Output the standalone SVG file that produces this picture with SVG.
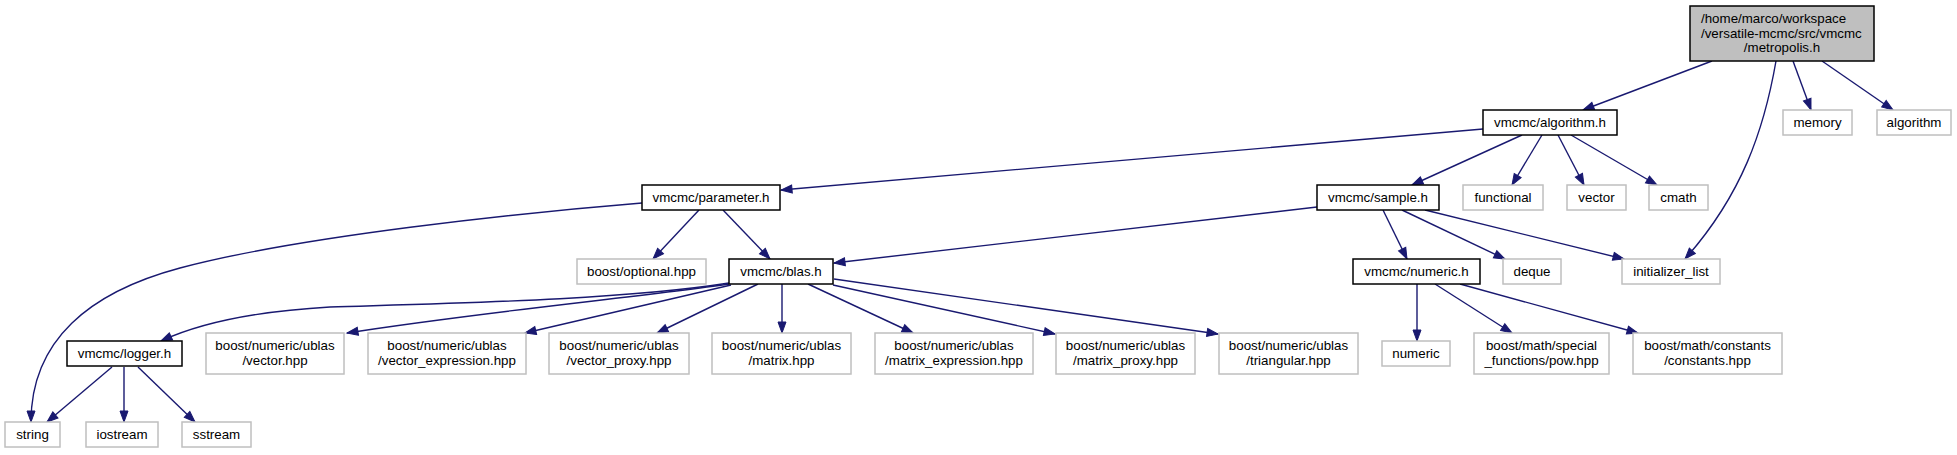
<svg xmlns="http://www.w3.org/2000/svg" width="1957" height="455" viewBox="0 0 1957 455">
<defs>
<style>
.n rect{fill:#ffffff;stroke:#000000;stroke-width:1.5}
.x rect{fill:#ffffff;stroke:#bfbfbf;stroke-width:1.5}
.m rect{fill:#bfbfbf;stroke:#000000;stroke-width:1.5}
text{font-family:"Liberation Sans",Arial,Helvetica,sans-serif;font-size:13.33px;fill:#000000;text-anchor:middle}
.l{text-anchor:start}
#edges path{fill:none;stroke:#191970;stroke-width:1.4;marker-end:url(#ah)}
</style>
<marker id="ah" markerUnits="userSpaceOnUse" markerWidth="12" markerHeight="9" refX="11" refY="4.5" orient="auto" overflow="visible">
<polygon points="0,0.5 11,4.5 0,8.5" fill="#191970" stroke="#191970" stroke-width="1"/>
</marker>
</defs>
<rect width="1957" height="455" fill="#ffffff"/>
<g id="edges">
<path d="M1712,61 L1583,110"/>
<path d="M1776,61 C1764,130 1742,195 1685,259"/>
<path d="M1793,61 L1811,110"/>
<path d="M1822,61 L1893,110"/>
<path d="M1483,129 L781,190"/>
<path d="M1522,135 L1412,185"/>
<path d="M1542,135 L1512,185"/>
<path d="M1558,135 L1584,185"/>
<path d="M1571,135 L1657,185"/>
<path d="M642,203 C520,213 300,236 180,268 C90,292 31,340 31,422"/>
<path d="M699,210 L653,259"/>
<path d="M723,210 L770,259"/>
<path d="M1317,207 L834,263"/>
<path d="M1383,210 L1407,259"/>
<path d="M1402,210 L1505,259"/>
<path d="M1425,210 L1624,259"/>
<path d="M729,283 C620,300 460,303 330,307 C260,311 200,323 161,341"/>
<path d="M729,284 C640,297 480,312 347,333"/>
<path d="M731,285 L525,333"/>
<path d="M758,284 L657,333"/>
<path d="M782,284 L782,333"/>
<path d="M808,284 L913,333"/>
<path d="M833,285 L1055,334"/>
<path d="M834,279 L1218,334"/>
<path d="M112,367 L47,422"/>
<path d="M124,367 L124,422"/>
<path d="M138,367 L195,422"/>
<path d="M1417,284 L1417,341"/>
<path d="M1435,284 L1512,333"/>
<path d="M1460,284 L1638,333"/>
</g>
<g id="metropolis" class="m"><rect x="1690" y="6" width="184" height="55"/><text class="l" x="1701" y="23">/home/marco/workspace</text><text class="l" x="1701" y="38">/versatile-mcmc/src/vmcmc</text><text x="1782" y="52">/metropolis.h</text></g>
<g id="algorithm_h" class="n"><rect x="1483" y="110" width="134" height="25"/><text x="1550" y="127">vmcmc/algorithm.h</text></g>
<g id="memory" class="x"><rect x="1783" y="110" width="69" height="25"/><text x="1817.5" y="127">memory</text></g>
<g id="algorithm" class="x"><rect x="1877" y="110" width="74" height="25"/><text x="1914" y="127">algorithm</text></g>
<g id="parameter_h" class="n"><rect x="642" y="185" width="138" height="25"/><text x="711" y="202">vmcmc/parameter.h</text></g>
<g id="sample_h" class="n"><rect x="1317" y="185" width="122" height="25"/><text x="1378" y="202">vmcmc/sample.h</text></g>
<g id="functional" class="x"><rect x="1463" y="185" width="80" height="25"/><text x="1503" y="202">functional</text></g>
<g id="vector" class="x"><rect x="1567" y="185" width="59" height="25"/><text x="1596.5" y="202">vector</text></g>
<g id="cmath" class="x"><rect x="1649" y="185" width="59" height="25"/><text x="1678.5" y="202">cmath</text></g>
<g id="optional" class="x"><rect x="577" y="259" width="129" height="25"/><text x="641.5" y="276">boost/optional.hpp</text></g>
<g id="blas_h" class="n"><rect x="729" y="259" width="104" height="25"/><text x="781" y="276">vmcmc/blas.h</text></g>
<g id="numeric_h" class="n"><rect x="1353" y="259" width="127" height="25"/><text x="1416.5" y="276">vmcmc/numeric.h</text></g>
<g id="deque" class="x"><rect x="1503" y="259" width="58" height="25"/><text x="1532" y="276">deque</text></g>
<g id="initializer_list" class="x"><rect x="1622" y="259" width="98" height="25"/><text x="1671" y="276">initializer_list</text></g>
<g id="logger_h" class="n"><rect x="67" y="341" width="115" height="25"/><text x="124.5" y="358">vmcmc/logger.h</text></g>
<g id="vector_hpp" class="x"><rect x="206" y="333" width="138" height="41"/><text x="275" y="350">boost/numeric/ublas</text><text x="275" y="365">/vector.hpp</text></g>
<g id="vector_expression" class="x"><rect x="368" y="333" width="158" height="41"/><text x="447" y="350">boost/numeric/ublas</text><text x="447" y="365">/vector_expression.hpp</text></g>
<g id="vector_proxy" class="x"><rect x="549" y="333" width="140" height="41"/><text x="619" y="350">boost/numeric/ublas</text><text x="619" y="365">/vector_proxy.hpp</text></g>
<g id="matrix" class="x"><rect x="712" y="333" width="139" height="41"/><text x="781.5" y="350">boost/numeric/ublas</text><text x="781.5" y="365">/matrix.hpp</text></g>
<g id="matrix_expression" class="x"><rect x="875" y="333" width="158" height="41"/><text x="954" y="350">boost/numeric/ublas</text><text x="954" y="365">/matrix_expression.hpp</text></g>
<g id="matrix_proxy" class="x"><rect x="1056" y="333" width="139" height="41"/><text x="1125.5" y="350">boost/numeric/ublas</text><text x="1125.5" y="365">/matrix_proxy.hpp</text></g>
<g id="triangular" class="x"><rect x="1219" y="333" width="139" height="41"/><text x="1288.5" y="350">boost/numeric/ublas</text><text x="1288.5" y="365">/triangular.hpp</text></g>
<g id="numeric" class="x"><rect x="1382" y="341" width="68" height="25"/><text x="1416" y="358">numeric</text></g>
<g id="pow" class="x"><rect x="1474" y="333" width="135" height="41"/><text x="1541.5" y="350">boost/math/special</text><text x="1541.5" y="365">_functions/pow.hpp</text></g>
<g id="constants" class="x"><rect x="1633" y="333" width="149" height="41"/><text x="1707.5" y="350">boost/math/constants</text><text x="1707.5" y="365">/constants.hpp</text></g>
<g id="string" class="x"><rect x="5" y="422" width="55" height="25"/><text x="32.5" y="439">string</text></g>
<g id="iostream" class="x"><rect x="86" y="422" width="72" height="25"/><text x="122" y="439">iostream</text></g>
<g id="sstream" class="x"><rect x="182" y="422" width="69" height="25"/><text x="216.5" y="439">sstream</text></g>
</svg>
